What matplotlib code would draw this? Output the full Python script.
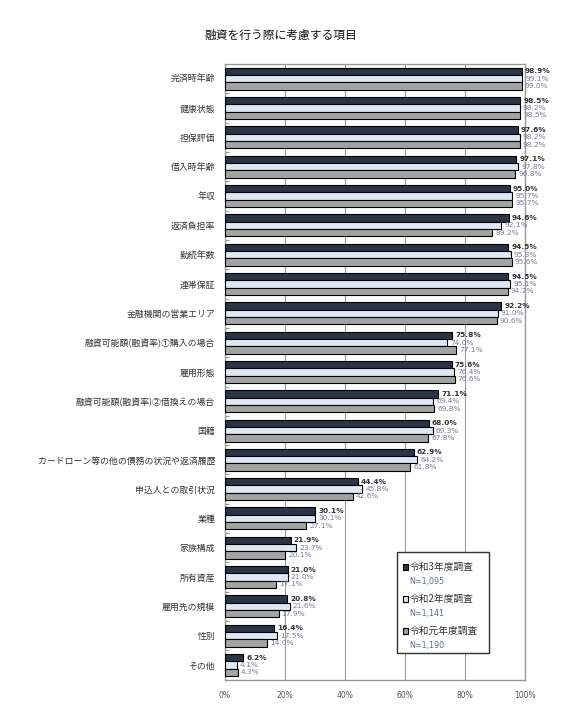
import numpy as np
import matplotlib
matplotlib.use('Agg')
import matplotlib.pyplot as plt
from matplotlib.patches import Rectangle

plt.rcParams['font.family'] = ['Noto Sans CJK JP', 'DejaVu Sans']

items = ['完済時年齢', '健康状態', '担保評価', '借入時年齢', '年収', '返済負担率',
         '勤続年数', '連帯保証', '金融機関の営業エリア', '融資可能額(融資率)①購入の場合',
         '雇用形態', '融資可能額(融資率)②借換えの場合', '国籍',
         'カードローン等の他の債務の状況や返済履歴', '申込人との取引状況', '業種',
         '家族構成', '所有資産', '雇用先の規模', '性別', 'その他']
r3 = [98.9, 98.5, 97.6, 97.1, 95.0, 94.6, 94.5, 94.5, 92.2, 75.8, 75.6,
      71.1, 68.0, 62.9, 44.4, 30.1, 21.9, 21.0, 20.8, 16.4, 6.2]
r2 = [99.1, 98.2, 98.2, 97.8, 95.7, 92.1, 95.3, 95.1, 91.0, 74.0, 76.4,
      69.4, 69.3, 64.2, 45.8, 30.1, 23.7, 21.0, 21.6, 17.5, 4.1]
r1 = [99.0, 98.5, 98.2, 96.8, 95.7, 89.2, 95.6, 94.2, 90.6, 77.1, 76.6,
      69.8, 67.8, 61.8, 42.6, 27.1, 20.1, 17.1, 17.9, 14.0, 4.3]
series = ['令和3年度調査', '令和2年度調査', '令和元年度調査']
counts = ['N=1,095', 'N=1,141', 'N=1,190']
colors = ['#2b3548', '#dde8f4', '#a3a3a3']

fig = plt.figure(figsize=(5.62, 7.2), dpi=100)
ax = fig.add_axes([0.40, 0.056, 0.534, 0.855])

y = np.arange(len(items))
h = 0.25
for k, vals in enumerate([r3, r2, r1]):
    pos = y + (k - 1) * h
    ax.barh(pos, vals, height=h, color=colors[k], edgecolor='black', linewidth=0.8, zorder=3)
    for p, v in zip(pos, vals):
        if k == 0:
            ax.text(v + 1.0, p, f'{v:.1f}%', va='center', ha='left', fontsize=5.3,
                    color='#333333', fontweight='bold', family='DejaVu Sans')
        else:
            ax.text(v + 1.0, p, f'{v:.1f}%', va='center', ha='left', fontsize=5.3,
                    color='#7d7a96', family='DejaVu Sans')

ax.set_xlim(0, 100)
ax.set_ylim(len(items) - 0.5, -0.5)
ax.set_yticks(y)
ax.set_yticklabels(items, fontsize=6.4, color='#333333')
ax.set_yticks(np.arange(len(items) + 1) - 0.5, minor=True)
ax.tick_params(axis='y', which='major', length=0, pad=7)
ax.tick_params(axis='y', which='minor', length=3, direction='in', color='#888888')
ax.set_xticks([0, 20, 40, 60, 80, 100])
ax.set_xticklabels(['0%', '20%', '40%', '60%', '80%', '100%'], fontsize=5.5,
                   color='#555555', family='DejaVu Sans')
ax.tick_params(axis='x', length=0, pad=8)
ax.grid(axis='x', color='#999999', linewidth=0.8, zorder=0)
for s in ax.spines.values():
    s.set_color('#999999')
    s.set_linewidth(1.0)

fig.text(0.5, 0.951, '融資を行う際に考慮する項目', ha='center', va='center',
         fontsize=8.5, color='#111111')

# legend box
ax.add_patch(Rectangle((0.573, 0.044), 0.307, 0.164, transform=ax.transAxes,
                       facecolor='white', edgecolor='#333333', linewidth=1.0, zorder=5))
for k in range(3):
    yy = 0.183 - k * 0.052
    ax.add_patch(Rectangle((0.593, yy - 0.005), 0.016, 0.010, transform=ax.transAxes,
                           facecolor=colors[k], edgecolor='black', linewidth=0.8, zorder=6))
    ax.text(0.615, yy, series[k], transform=ax.transAxes, fontsize=7, va='center',
            ha='left', color='#333333', zorder=6)
    ax.text(0.615, yy - 0.023, counts[k], transform=ax.transAxes, fontsize=5.8,
            va='center', ha='left', color='#5a6e8c', zorder=6, family='DejaVu Sans')

fig.savefig('out.png', dpi=100)
